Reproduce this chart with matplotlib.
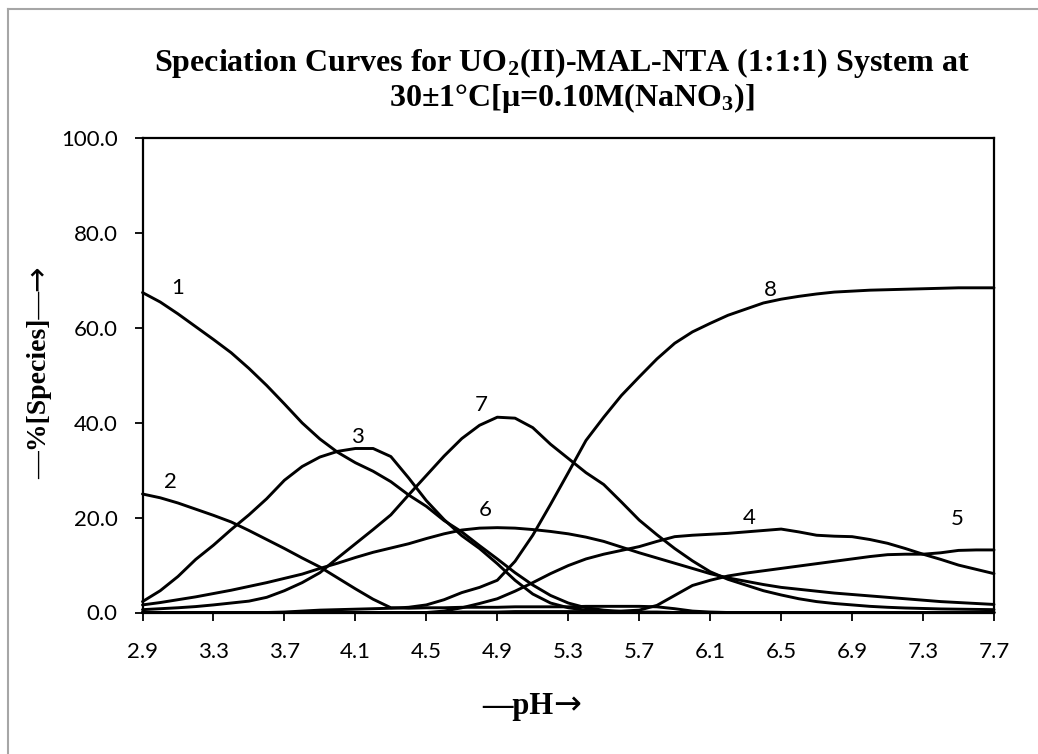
import matplotlib
matplotlib.use("Agg")
import matplotlib.pyplot as plt
from matplotlib.lines import Line2D

# ---------------- data ----------------
pH = [2.9, 3.0, 3.1, 3.2, 3.3, 3.4, 3.5, 3.6, 3.7, 3.8, 3.9, 4.0, 4.1, 4.2, 4.3,
      4.4, 4.5, 4.6, 4.7, 4.8, 4.9, 5.0, 5.1, 5.2, 5.3, 5.4, 5.5, 5.6, 5.7, 5.8,
      5.9, 6.0, 6.1, 6.2, 6.3, 6.4, 6.5, 6.6, 6.7, 6.8, 6.9, 7.0, 7.1, 7.2, 7.3,
      7.4, 7.5, 7.6, 7.7]

s1 = [67.5, 65.5, 63.0, 60.3, 57.6, 54.8, 51.5, 47.9, 44.0, 40.0, 36.6, 33.8, 31.6, 29.8, 27.6,
      24.8, 22.4, 19.4, 17.0, 14.1, 11.3, 8.4, 5.8, 3.6, 2.0, 1.0, 0.5, 0.2, 0.1, 0.1,
      0.0, 0.0, 0.0, 0.0, 0.0, 0.0, 0.0, 0.0, 0.0, 0.0, 0.0, 0.0, 0.0, 0.0, 0.0,
      0.0, 0.0, 0.0, 0.0]
s2 = [25.0, 24.2, 23.1, 21.8, 20.5, 19.1, 17.3, 15.4, 13.5, 11.5, 9.6, 7.3, 5.0, 2.8, 1.0,
      0.9, 1.0, 1.0, 1.1, 1.1, 1.1, 1.2, 1.2, 1.2, 1.2, 1.3, 1.3, 1.3, 1.3, 1.2,
      0.8, 0.3, 0.1, 0.0, 0.0, 0.0, 0.0, 0.0, 0.0, 0.0, 0.0, 0.0, 0.0, 0.0, 0.0,
      0.0, 0.0, 0.0, 0.0]
s3 = [2.3, 4.6, 7.6, 11.2, 14.2, 17.5, 20.6, 24.0, 27.9, 30.8, 32.8, 34.0, 34.6, 34.6, 32.9,
      28.4, 23.6, 19.6, 16.2, 13.5, 10.3, 6.8, 3.9, 2.0, 1.0, 0.5, 0.2, 0.1, 0.0, 0.0,
      0.0, 0.0, 0.0, 0.0, 0.0, 0.0, 0.0, 0.0, 0.0, 0.0, 0.0, 0.0, 0.0, 0.0, 0.0,
      0.0, 0.0, 0.0, 0.0]
s4 = [0.0, 0.0, 0.0, 0.0, 0.0, 0.0, 0.0, 0.0, 0.0, 0.0, 0.0, 0.0, 0.0, 0.0, 0.0,
      0.0, 0.0, 0.3, 1.0, 1.9, 2.9, 4.5, 6.3, 8.2, 9.9, 11.3, 12.3, 13.1, 13.9, 15.0,
      16.0, 16.3, 16.5, 16.7, 17.0, 17.3, 17.6, 17.0, 16.3, 16.1, 16.0, 15.4, 14.6, 13.5, 12.3,
      11.2, 10.0, 9.1, 8.2]
s5 = [0.0, 0.0, 0.0, 0.0, 0.0, 0.0, 0.0, 0.0, 0.0, 0.0, 0.0, 0.0, 0.0, 0.0, 0.0,
      0.0, 0.0, 0.0, 0.1, 0.1, 0.1, 0.2, 0.2, 0.2, 0.2, 0.2, 0.2, 0.3, 0.5, 1.5,
      3.6, 5.7, 6.8, 7.7, 8.3, 8.8, 9.3, 9.8, 10.3, 10.8, 11.3, 11.8, 12.2, 12.3, 12.3,
      12.6, 13.1, 13.2, 13.2]
s6 = [1.6, 2.1, 2.7, 3.3, 4.0, 4.7, 5.5, 6.3, 7.2, 8.1, 9.3, 10.4, 11.6, 12.7, 13.6,
      14.5, 15.6, 16.6, 17.4, 17.8, 17.9, 17.8, 17.5, 17.1, 16.6, 15.9, 15.0, 13.8, 12.6, 11.5,
      10.4, 9.3, 8.2, 7.3, 6.6, 5.9, 5.3, 4.9, 4.5, 4.1, 3.8, 3.5, 3.2, 2.9, 2.6,
      2.3, 2.1, 1.9, 1.7]
s7 = [0.6, 0.8, 1.0, 1.25, 1.6, 2.0, 2.4, 3.2, 4.6, 6.3, 8.4, 11.5, 14.5, 17.5, 20.6,
      24.8, 28.9, 33.0, 36.7, 39.5, 41.2, 41.0, 39.0, 35.5, 32.5, 29.5, 27.0, 23.3, 19.5, 16.4,
      13.5, 10.9, 8.6, 7.0, 5.8, 4.6, 3.7, 2.9, 2.3, 1.9, 1.6, 1.3, 1.1, 0.95, 0.85,
      0.75, 0.7, 0.65, 0.6]
s8 = [0.0, 0.0, 0.0, 0.0, 0.0, 0.0, 0.0, 0.0, 0.1, 0.3, 0.5, 0.6, 0.7, 0.8, 0.9,
      1.1, 1.6, 2.7, 4.2, 5.3, 6.8, 10.8, 16.3, 22.8, 29.5, 36.3, 41.2, 45.8, 49.7, 53.5,
      56.8, 59.2, 61.0, 62.7, 64.0, 65.3, 66.1, 66.7, 67.2, 67.6, 67.8, 68.0, 68.1, 68.2, 68.3,
      68.4, 68.5, 68.5, 68.5]

series = [s1, s2, s3, s4, s5, s6, s7, s8]
curve_labels = ["1", "2", "3", "4", "5", "6", "7", "8"]
label_x = [3.10, 3.06, 4.11, 6.32, 7.49, 4.83, 4.81, 6.44]
label_y = [68.5, 27.5, 37.0, 19.9, 19.7, 21.6, 43.7, 68.0]

x_ticks = [2.9, 3.3, 3.7, 4.1, 4.5, 4.9, 5.3, 5.7, 6.1, 6.5, 6.9, 7.3, 7.7]
y_ticks = [0, 20, 40, 60, 80, 100]

# ---------------- figure ----------------
W, H = 1038, 754
fig = plt.figure(figsize=(W / 100, H / 100), dpi=100)
fig.patch.set_facecolor("white")

plt.rcParams["mathtext.fontset"] = "custom"
plt.rcParams["mathtext.rm"] = "Liberation Serif:bold"
plt.rcParams["mathtext.it"] = "Liberation Serif:bold"
plt.rcParams["mathtext.bf"] = "Liberation Serif:bold"

# outer grey frame (left and top edges visible)
frame_kw = dict(transform=fig.transFigure, color="#a6a6a6", linewidth=1.5)
fig.add_artist(Line2D([8 / W, 8 / W], [0, 1 - 9 / H], **frame_kw))
fig.add_artist(Line2D([8 / W, 1], [1 - 9 / H, 1 - 9 / H], **frame_kw))

left, right, top, bottom = 142.5, 994, 138.5, 612.5
ax = fig.add_axes([left / W, 1 - bottom / H, (right - left) / W, (bottom - top) / H])

for s in series:
    ax.plot(pH, s, color="black", linewidth=2.1, solid_joinstyle="round",
            solid_capstyle="round", clip_on=False)

for lab, lx, ly in zip(curve_labels, label_x, label_y):
    ax.text(lx, ly, lab, ha="center", va="center", fontsize=16,
            family=["Lato", "DejaVu Sans"], color="black")

ax.set_xlim(2.9, 7.7)
ax.set_ylim(0, 100)
ax.set_xticks(x_ticks)
ax.set_xticklabels([f"{v:.1f}" for v in x_ticks])
ax.set_yticks(y_ticks)
ax.set_yticklabels([f"{v:.1f}" for v in y_ticks])
for lab in ax.get_xticklabels() + ax.get_yticklabels():
    lab.set_family(["Lato", "DejaVu Sans"])
    lab.set_fontsize(16)
ax.tick_params(axis="x", direction="out", length=6, width=1.3, pad=15)
ax.tick_params(axis="y", direction="out", length=6, width=1.3, pad=12)
for sp in ax.spines.values():
    sp.set_linewidth(1.6)
    sp.set_color("black")

serif = ["Liberation Serif", "DejaVu Serif"]
fig.text(562 / W, 1 - 63 / H,
         r"Speciation Curves for UO$_2$(II)-MAL-NTA (1:1:1) System at",
         ha="center", va="center", fontsize=23, fontweight="bold", family=serif)
fig.text(572 / W, 1 - 98 / H, r"30±1°C[μ=0.10M(NaNO$_3$)]",
         ha="center", va="center", fontsize=23, fontweight="bold", family=serif)

# axis titles: bold serif text followed by a long thin arrow
renderer = fig.canvas.get_renderer()

# x axis title, centred at (cx, baseline)
cx, base_y = 532, 714
tx = fig.text(0, 1 - base_y / H, "—pH", ha="left", va="baseline",
              fontsize=22, fontweight="bold", family=serif)
ar = fig.text(0, 1 - base_y / H, "→", ha="left", va="baseline",
              fontsize=24, family=["DejaVu Sans"])
w1 = tx.get_window_extent(renderer).width
w2 = ar.get_window_extent(renderer).width
x0 = cx - (w1 + w2) / 2
tx.set_x(x0 / W)
ar.set_x((x0 + w1) / W)

# y axis title (rotated), centred at (baseline_x, cy)
cy, base_x = 372, 46
ty = fig.text(base_x / W, 0, "—%[Species]—", ha="left", va="baseline",
              rotation=90, rotation_mode="anchor",
              fontsize=20, fontweight="bold", family=serif)
ay = fig.text(base_x / W, 0, "→", ha="left", va="baseline",
              rotation=90, rotation_mode="anchor",
              fontsize=22, family=["DejaVu Sans"])
h1 = ty.get_window_extent(renderer).height
h2 = ay.get_window_extent(renderer).height
y0 = (H - cy) - (h1 + h2) / 2
ty.set_y(y0 / H)
ay.set_y((y0 + h1) / H)

fig.savefig("out.png", dpi=100, facecolor="white")
